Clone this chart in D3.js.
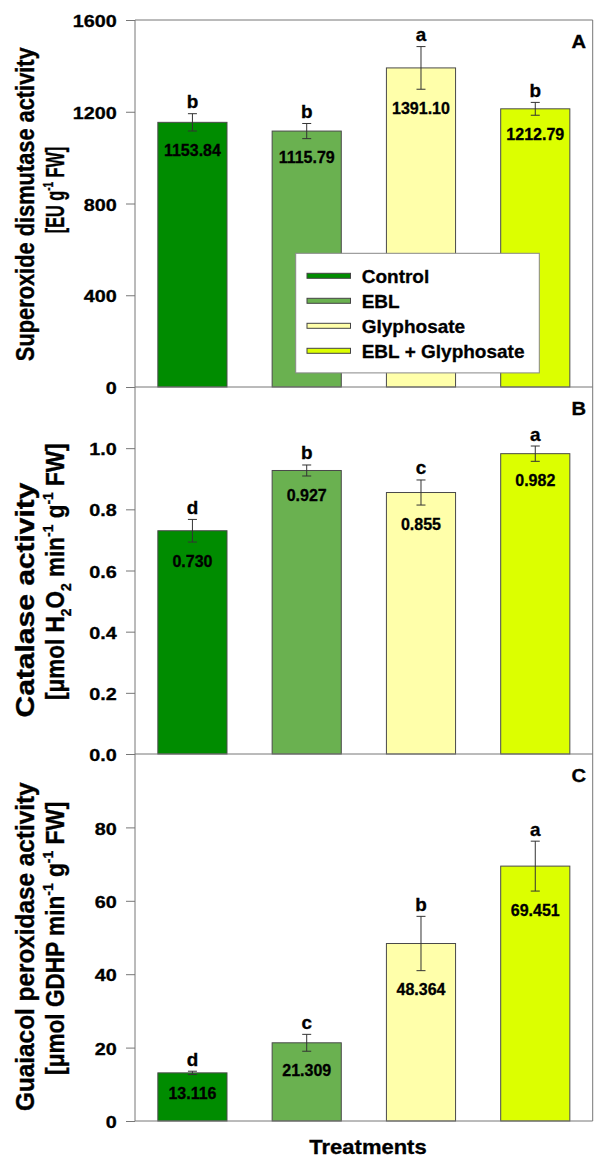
<!DOCTYPE html>
<html>
<head>
<meta charset="utf-8">
<script src="https://cdn.jsdelivr.net/npm/d3@7"></script>
<style>
  html, body { margin: 0; padding: 0; background: #fff; }
  svg { display: block; font-family: "Liberation Sans", Arial, sans-serif; }
</style>
</head>
<body>
<svg id="chart" width="606" height="1167"></svg>
<script>
// ---------- data ----------
const categories = ["Control", "EBL", "Glyphosate", "EBL + Glyphosate"];
const barColors = ["#008c00", "#6ab150", "#ffffaa", "#dcff00"];

const sodMean = [1153.84, 1115.79, 1391.10, 1212.79];
const sodErr = [37.7, 33.0, 93.0, 28.0];
const sodLetters = ["b", "b", "a", "b"];
const sodTicks = [0, 400, 800, 1200, 1600];

const catMean = [0.730, 0.927, 0.855, 0.982];
const catErr = [0.037, 0.018, 0.041, 0.025];
const catLetters = ["d", "b", "c", "a"];
const catTicks = [0, 0.2, 0.4, 0.6, 0.8, 1.0];

const podMean = [13.116, 21.309, 48.364, 69.451];
const podErr = [0.45, 2.3, 7.4, 6.8];
const podLetters = ["d", "c", "b", "a"];
const podTicks = [0, 20, 40, 60, 80];

const panelLetters = ["A", "B", "C"];
const xTitle = "Treatments";

// ---------- layout ----------
const svg = d3.select("#chart");
const left = 135, right = 592.7;
const top0 = 20, panelH = 367;
const FONT = '"Liberation Sans", Arial, sans-serif';

const x = d3.scaleBand().domain(categories).range([left, right])
  .paddingInner(0.395).paddingOuter(0.2);

function label(parent, o) {
  const g = parent.append("g");
  const t = g.append("text")
    .attr("text-anchor", o.anchor || "middle")
    .attr("font-size", o.size)
    .attr("font-weight", "bold")
    .attr("font-family", FONT)
    .attr("fill", "#000")
    .attr("stroke", "#000").attr("stroke-width", 0.3);
  let shift = 0;
  (o.parts || [{ t: o.text }]).forEach(p => {
    let want = 0, fs = o.size;
    if (p.sup) { want = -o.size * 0.42; fs = o.size * 0.62; }
    if (p.sub) { want = o.size * 0.28; fs = o.size * 0.62; }
    t.append("tspan").attr("dy", want - shift).attr("font-size", fs).text(p.t);
    shift = want;
  });
  let sx = o.sx || 1;
  const sy = o.sy || 1;
  if (o.target) {
    const w = t.node().getBBox().width;
    sx = o.target / w;
  }
  g.attr("transform", `translate(${o.x},${o.y}) rotate(${o.rotate || 0}) scale(${sx},${sy})`);
  return g;
}

const panels = [
  { mean: sodMean, err: sodErr, letters: sodLetters, ticks: sodTicks, domain: [0, 1600],
    tickFmt: d3.format("d"), valFmt: d3.format(".2f"),
    title1: { parts: [{ t: "Superoxide dismutase activity" }], target: 315, cy: 204.2 },
    title2: { parts: [{ t: "[EU g" }, { t: "-1", sup: true }, { t: " FW]" }], target: 86.5, cy: 190 } },
  { mean: catMean, err: catErr, letters: catLetters, ticks: catTicks, domain: [0, 1.2],
    tickFmt: d3.format(".1f"), valFmt: d3.format(".3f"),
    title1: { parts: [{ t: "Catalase activity" }], target: 236.3, cy: 600 },
    title2: { parts: [{ t: "[\u03bcmol H" }, { t: "2", sub: true }, { t: "O" }, { t: "2", sub: true },
      { t: " min" }, { t: "-1", sup: true }, { t: " g" }, { t: "-1", sup: true }, { t: " FW]" }], target: 256.7, cy: 571.7 } },
  { mean: podMean, err: podErr, letters: podLetters, ticks: podTicks, domain: [0, 100],
    tickFmt: d3.format("d"), valFmt: d3.format(".3f"),
    title1: { parts: [{ t: "Guaiacol peroxidase activity" }], target: 330, cy: 946.7 },
    title2: { parts: [{ t: "[\u03bcmol GDHP min" }, { t: "-1", sup: true }, { t: " g" }, { t: "-1", sup: true }, { t: " FW]" }], target: 273.3, cy: 938.3 } }
];

svg.append("rect").attr("width", 606).attr("height", 1167).attr("fill", "#fff");

panels.forEach((p, i) => {
  const pTop = top0 + i * panelH, pBot = pTop + panelH;
  const y = d3.scaleLinear().domain(p.domain).range([pBot, pTop]);
  const g = svg.append("g");

  // bars
  g.selectAll("rect.bar").data(categories).join("rect")
    .attr("class", "bar")
    .attr("x", d => x(d))
    .attr("width", x.bandwidth())
    .attr("y", (d, j) => y(p.mean[j]))
    .attr("height", (d, j) => y(0) - y(p.mean[j]))
    .attr("fill", (d, j) => barColors[j])
    .attr("stroke", "#4a4a4a").attr("stroke-width", 1);

  // error bars
  const cx = d => x(d) + x.bandwidth() / 2;
  const eg = g.selectAll("g.err").data(categories).join("g").attr("class", "err")
    .attr("stroke", "#333").attr("stroke-width", 1);
  eg.append("line").attr("x1", cx).attr("x2", cx)
    .attr("y1", (d, j) => y(p.mean[j] + p.err[j]))
    .attr("y2", (d, j) => y(p.mean[j] - p.err[j]));
  eg.append("line").attr("x1", d => cx(d) - 4.5).attr("x2", d => cx(d) + 4.5)
    .attr("y1", (d, j) => y(p.mean[j] + p.err[j])).attr("y2", (d, j) => y(p.mean[j] + p.err[j]));
  eg.append("line").attr("x1", d => cx(d) - 4.5).attr("x2", d => cx(d) + 4.5)
    .attr("y1", (d, j) => y(p.mean[j] - p.err[j])).attr("y2", (d, j) => y(p.mean[j] - p.err[j]));

  // value labels & letters
  categories.forEach((d, j) => {
    label(g, { x: cx(d), y: y(p.mean[j] - p.err[j]) + 24.8, size: 16, text: p.valFmt(p.mean[j]) });
    label(g, { x: cx(d), y: y(p.mean[j] + p.err[j]) - 5.5, size: 18, sx: 1.05, text: p.letters[j] });
  });

  // axis
  const ax = g.append("g").attr("transform", `translate(${left},0)`)
    .call(d3.axisLeft(y).tickValues(p.ticks).tickFormat(p.tickFmt).tickSize(9).tickPadding(0));
  ax.select(".domain").remove();
  ax.selectAll(".tick line").attr("stroke", "#777");
  ax.selectAll(".tick text")
    .attr("font-family", FONT).attr("font-size", 16.5).attr("font-weight", "bold")
    .attr("fill", "#000").attr("stroke", "#000").attr("stroke-width", 0.3)
    .attr("x", -18.3 / 1.2).attr("dy", null).attr("y", 6.6)
    .attr("transform", "scale(1.2,1)");

  // frame lines
  g.append("line").attr("x1", left).attr("x2", right).attr("y1", pBot).attr("y2", pBot)
    .attr("stroke", "#777").attr("stroke-width", 1);

  // panel letter
  label(g, { x: 586, y: pTop + 27.5, size: 17.5, sx: 1.15, anchor: "end", text: panelLetters[i] });

  // y titles
  label(svg, { x: 33.5, y: p.title1.cy, rotate: -90, size: 20, sy: 1.25, target: p.title1.target, parts: p.title1.parts });
  label(svg, { x: 63.5, y: p.title2.cy, rotate: -90, size: 20, sy: 1.25, target: p.title2.target, parts: p.title2.parts });
});

// outer frame
svg.append("line").attr("x1", left).attr("x2", left).attr("y1", top0).attr("y2", top0 + 3 * panelH)
  .attr("stroke", "#777");
svg.append("line").attr("x1", right).attr("x2", right).attr("y1", top0).attr("y2", top0 + 3 * panelH)
  .attr("stroke", "#777");
svg.append("line").attr("x1", left).attr("x2", right).attr("y1", top0).attr("y2", top0)
  .attr("stroke", "#777");

// legend
const lg = svg.append("g");
lg.append("rect").attr("x", 295.7).attr("y", 253.3).attr("width", 243.6).attr("height", 119.6)
  .attr("fill", "#fff").attr("stroke", "#888").attr("stroke-width", 1);
categories.forEach((c, j) => {
  const cy = 275.8 + j * 25;
  lg.append("rect").attr("x", 307).attr("y", cy - 2.5).attr("width", 43.5).attr("height", 5)
    .attr("fill", barColors[j]).attr("stroke", "#444").attr("stroke-width", 1);
  label(lg, { x: 361.7, y: cy + 7, size: 19, anchor: "start", text: c });
});

// x title
label(svg, { x: 368, y: 1154, size: 20, sx: 1.1, text: xTitle });
</script>
</body>
</html>
